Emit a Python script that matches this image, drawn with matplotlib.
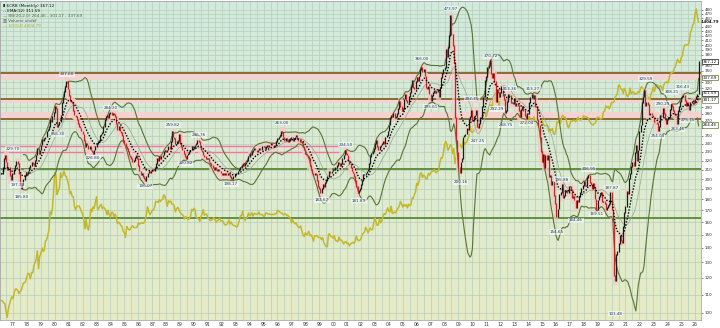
import numpy as np
import pandas as pd
import matplotlib
matplotlib.use("Agg")
import matplotlib.pyplot as plt

# monthly closes, first value = March 1976
start_year, start_month = 1976, 3
crb_close = [
    205, 212, 222, 226, 218, 210, 212, 203, 199, 206,
    205, 210, 214, 219, 216, 205, 196, 190, 194, 199, 203, 207,
    205, 208, 212, 214, 218, 216, 214, 220, 226, 234, 228, 232,
    238, 245, 244, 246, 248, 256, 258, 262, 272, 268, 276, 282,
    290, 288, 262, 265, 268, 278, 296, 305, 314, 322, 330, 318,
    308, 300, 298, 296, 285, 278, 276, 272, 266, 262, 260, 256,
    252, 244, 236, 240, 238, 234, 236, 232, 230, 228, 232, 236,
    240, 242, 244, 250, 252, 254, 262, 272, 276, 278, 274, 280,
    282, 278, 281, 279, 276, 266, 258, 262, 256, 254, 250, 244,
    240, 236, 234, 230, 226, 224, 222, 218, 220, 223, 226, 222,
    214, 208, 204, 206, 202, 200, 198, 202, 206, 208, 206, 208,
    210, 208, 212, 216, 222, 220, 224, 222, 224, 226, 230, 232,
    230, 232, 236, 234, 242, 256, 248, 246, 240, 242, 244, 252,
    240, 236, 232, 228, 224, 222, 226, 228, 230, 232, 236, 234,
    236, 238, 240, 244, 242, 238, 232, 230, 226, 224, 222, 222,
    222, 218, 216, 214, 212, 210, 212, 210, 208, 210, 208, 206,
    204, 206, 204, 206, 204, 206, 204, 202, 200, 200, 202, 204,
    206, 206, 208, 210, 212, 214, 216, 214, 216, 218, 220, 224,
    228, 226, 230, 232, 234, 232, 230, 232, 234, 232, 232, 236,
    236, 234, 236, 238, 236, 238, 240, 238, 238, 236, 238, 242,
    246, 248, 250, 256, 254, 248, 244, 246, 244, 242, 244, 246,
    248, 244, 246, 248, 250, 246, 244, 242, 242, 240, 236, 232,
    228, 226, 224, 222, 214, 210, 206, 204, 206, 204, 198, 192,
    190, 186, 190, 194, 192, 196, 198, 202, 208, 206, 206, 208,
    210, 210, 212, 214, 218, 216, 214, 216, 222, 226, 232, 228,
    226, 220, 216, 212, 208, 206, 202, 198, 192, 186, 188, 190,
    194, 198, 204, 204, 206, 208, 210, 216, 224, 228, 230, 234,
    240, 244, 236, 232, 236, 238, 240, 242, 240, 248, 250, 256,
    264, 274, 278, 276, 280, 274, 276, 280, 288, 298, 290, 284,
    288, 302, 310, 300, 296, 306, 312, 322, 332, 320, 318, 330,
    338, 332, 340, 352, 356, 348, 352, 340, 320, 318, 322, 310,
    300, 308, 312, 316, 312, 314, 318, 306, 320, 338, 344, 352,
    356, 390, 376, 394, 420, 466, 422, 398, 364, 274, 244, 229,
    212, 206, 218, 222, 248, 250, 252, 260, 258, 272, 276, 284,
    270, 276, 278, 284, 262, 260, 266, 274, 290, 305, 306, 332,
    339, 356, 359, 368, 345, 338, 345, 330, 298, 318, 312, 305,
    312, 322, 308, 301, 282, 284, 298, 310, 308, 296, 296, 295,
    303, 292, 295, 292, 284, 275, 286, 290, 285, 277, 273, 280,
    280, 297, 304, 309, 303, 308, 291, 290, 272, 263, 247, 230,
    218, 227, 212, 225, 221, 225, 202, 203, 194, 197, 183, 176,
    164, 164, 171, 184, 186, 194, 181, 183, 187, 188, 186, 192,
    192, 189, 181, 182, 179, 172, 179, 178, 182, 186, 190, 193,
    197, 193, 193, 201, 203, 196, 194, 190, 195, 191, 180, 170,
    179, 182, 184, 186, 178, 178, 176, 170, 172, 174, 176, 186,
    170, 160, 121, 118, 135, 137, 143, 149, 145, 144, 156, 168,
    173, 187, 185, 200, 205, 213, 218, 214, 229, 237, 220, 232,
    255, 264, 296, 305, 315, 292, 296, 294, 278, 281, 281, 278,
    275, 268, 268, 266, 256, 262, 278, 276, 288, 280, 272, 266,
    272, 274, 286, 294, 290, 284, 280, 278, 266, 284, 290, 298,
    304, 306, 308, 300, 292, 296, 292, 286, 296, 298, 300, 296,
    302, 306, 310, 367.12,
]
gold_close = [
    129, 128, 125, 124, 112, 104, 116, 123, 130, 135,
    132, 142, 149, 149, 147, 141, 144, 146, 154, 161, 161, 165,
    175, 182, 181, 170, 184, 183, 200, 208, 217, 242, 193, 226,
    233, 251, 240, 245, 274, 278, 296, 315, 397, 383, 416, 512,
    653, 637, 494, 518, 535, 653, 614, 631, 666, 629, 619, 590,
    557, 499, 513, 482, 480, 426, 406, 425, 428, 427, 414, 397,
    387, 362, 320, 361, 326, 315, 342, 411, 397, 423, 414, 448,
    481, 408, 415, 429, 437, 413, 422, 415, 405, 382, 405, 382,
    370, 395, 394, 372, 385, 373, 342, 348, 344, 333, 329, 309,
    306, 287, 330, 321, 316, 317, 327, 333, 326, 325, 325, 327,
    345, 339, 344, 345, 343, 346, 357, 384, 423, 401, 383, 391,
    405, 406, 419, 453, 451, 447, 463, 453, 460, 466, 492, 484,
    458, 426, 457, 449, 455, 437, 437, 427, 397, 412, 420, 410,
    394, 388, 383, 377, 362, 373, 368, 359, 366, 375, 409, 401,
    415, 407, 368, 367, 363, 352, 372, 387, 408, 380, 384, 386,
    366, 363, 355, 357, 360, 368, 362, 347, 354, 357, 366, 353,
    354, 353, 341, 336, 337, 343, 357, 340, 349, 339, 334, 333,
    330, 327, 337, 355, 377, 378, 401, 371, 355, 369, 371, 391,
    378, 381, 392, 376, 388, 388, 385, 385, 395, 383, 383, 383,
    375, 376, 392, 389, 385, 387, 383, 383, 384, 383, 387, 387,
    405, 400, 396, 391, 391, 382, 385, 387, 379, 379, 371, 369,
    345, 358, 348, 340, 345, 334, 326, 325, 332, 311, 296, 290,
    304, 297, 301, 310, 293, 296, 288, 273, 293, 292, 294, 287,
    287, 287, 279, 286, 268, 261, 255, 255, 299, 299, 291, 290,
    284, 293, 276, 275, 272, 288, 277, 278, 273, 264, 270, 272,
    265, 267, 258, 264, 267, 270, 266, 273, 293, 279, 275, 277,
    282, 297, 302, 308, 326, 318, 304, 312, 324, 316, 317, 347,
    367, 348, 334, 336, 361, 346, 354, 375, 388, 384, 398, 417,
    400, 396, 426, 388, 393, 395, 391, 408, 416, 428, 453, 438,
    422, 435, 427, 435, 417, 437, 430, 433, 473, 470, 495, 513,
    569, 556, 582, 644, 653, 613, 633, 623, 600, 604, 646, 632,
    650, 665, 662, 679, 659, 650, 665, 673, 743, 789, 783, 834,
    923, 971, 934, 865, 888, 930, 919, 833, 884, 730, 814, 869,
    919, 942, 916, 891, 976, 934, 955, 955, 996, 1040, 1182, 1096,
    1081, 1116, 1113, 1179, 1213, 1244, 1169, 1246, 1307, 1346, 1386, 1405,
    1327, 1411, 1439, 1535, 1536, 1505, 1628, 1813, 1620, 1722, 1746, 1531,
    1744, 1770, 1662, 1651, 1558, 1598, 1622, 1692, 1776, 1720, 1726, 1657,
    1664, 1578, 1598, 1469, 1394, 1234, 1314, 1396, 1326, 1323, 1253, 1202,
    1240, 1326, 1284, 1288, 1250, 1322, 1285, 1287, 1216, 1172, 1182, 1200,
    1278, 1213, 1183, 1183, 1190, 1172, 1095, 1134, 1114, 1142, 1065, 1061,
    1116, 1237, 1233, 1290, 1215, 1321, 1350, 1309, 1316, 1273, 1173, 1152,
    1211, 1253, 1249, 1268, 1268, 1242, 1270, 1321, 1280, 1271, 1275, 1303,
    1343, 1318, 1325, 1315, 1299, 1253, 1224, 1202, 1192, 1215, 1221, 1282,
    1321, 1316, 1292, 1284, 1305, 1410, 1427, 1520, 1485, 1512, 1465, 1517,
    1587, 1585, 1597, 1686, 1730, 1781, 1975, 1968, 1887, 1879, 1777, 1898,
    1848, 1734, 1708, 1768, 1906, 1770, 1814, 1814, 1757, 1783, 1775, 1829,
    1797, 1909, 1937, 1897, 1838, 1807, 1766, 1711, 1672, 1634, 1769, 1824,
    1928, 1827, 1969, 1990, 1963, 1919, 1965, 1940, 1849, 1984, 2036, 2063,
    2040, 2044, 2230, 2286, 2327, 2326, 2447, 2503, 2634, 2744, 2657, 2625,
    2798, 2858, 3122, 3289, 3289, 3303, 3290, 3448, 3858, 4003, 4239, 4330,
    4900, 5200, 4700, 4404.79,
]

# price levels drawn across the chart
brown_levels = [346, 302, 273]
pink_bands = [(334, 346), (296, 302), (273, 283)]
green_levels = [210.7, 163.3]
pink_levels = [229.5, 237.7]
pink_end = 2000.35

# high / low callouts
ann_t = [1976.45, 1976.8, 1977.65, 1980.2, 1980.9, 1982.75, 1984.0, 1986.5,
         1988.5, 1989.4, 1990.35, 1992.65, 1996.35, 1999.2, 2000.9, 2001.85,
         2006.4, 2007.0, 2008.5, 2009.15, 2009.97, 2010.4, 2011.3, 2011.75,
         2012.42, 2012.67, 2013.9, 2014.36, 2016.05, 2016.44, 2017.45, 2018.35,
         2018.95, 2020.02, 2020.3, 2022.45, 2023.3, 2023.7, 2024.3, 2024.75,
         2025.1, 2025.45]
ann_val = [229.70, 197.30, 185.80, 256.30, 337.60, 226.80, 284.20, 196.07,
           259.82, 220.82, 246.76, 198.17, 263.00, 182.67, 234.50, 181.83,
           366.00, 295.61, 473.97, 200.16, 297.75, 247.25, 370.72, 292.29,
           268.75, 313.36, 272.04, 313.27, 154.65, 195.88, 164.46, 206.95,
           169.51, 187.87, 101.48, 329.59, 254.03, 290.29, 308.21, 263.46,
           316.43, 275.75]
ann_kind = ['h', 'l', 'l', 'l', 'h', 'l', 'h', 'l', 'h', 'l', 'h', 'l', 'h', 'l',
            'h', 'l', 'h', 'l', 'h', 'l', 'h', 'l', 'h', 'l', 'l', 'h', 'l', 'h',
            'l', 'h', 'l', 'h', 'l', 'h', 'l', 'h', 'l', 'h', 'h', 'l', 'h', 'l']

crb = np.array(crb_close, float)
gold = np.array(gold_close, float)
t = start_year + (np.arange(len(crb)) + start_month - 1) / 12.0
opens = np.r_[crb[0], crb[:-1]]
s = pd.Series(crb)
ema = s.ewm(span=12, adjust=False).mean().values
mid = s.rolling(20).mean().values
sd = s.rolling(20).std(ddof=0).values
upper, lower = mid + 2 * sd, mid - 2 * sd

W, H = 720, 328
fig = plt.figure(figsize=(W / 100, H / 100), dpi=100)
rect = [0, (H - 320) / H, 701 / W, 319 / H]
xlim = (1976.066, 2026.425)
ylim = (96.44, 502.3)

# background, grid, bands, levels
bg = fig.add_axes(rect, zorder=1)
bg.set_yscale("log")
bg.set_xlim(xlim)
bg.set_ylim(ylim)
grad = np.linspace(0, 1, 256)[:, None]
top = np.array([0.820, 0.918, 0.868])
bot = np.array([0.900, 0.925, 0.775])
img = top[None, None, :] * (1 - grad[..., None]) + bot[None, None, :] * grad[..., None]
bg.imshow(img, extent=[0, 1, 0, 1], transform=bg.transAxes, aspect="auto", zorder=0)
for yr in np.arange(1976.5, 2026.5, 0.5):
    bg.axvline(yr, color="#b8ccbc", lw=0.5, zorder=1)
for p in range(100, 490, 10):
    bg.axhline(p, color="#b8ccbc", lw=0.5, zorder=1)
for lo, hi in pink_bands:
    bg.axhspan(lo, hi, color="#f3d3cf", lw=0, zorder=2)
for p in brown_levels:
    bg.axhline(p, color="#8a6a34", lw=1.4, zorder=3)
for p in green_levels:
    bg.axhline(p, color="#4e7f2c", lw=1.2, zorder=3)
for p in pink_levels:
    bg.plot([xlim[0], pink_end], [p, p], color="#ff6fa3", lw=1.0, zorder=3)
bg.axis("off")

# price panel
ax = fig.add_axes(rect, zorder=3)
ax.patch.set_visible(False)
ax.set_yscale("log")
ax.set_xlim(xlim)
ax.set_ylim(ylim)

ax2 = ax.twinx()
ax2.set_zorder(2)
ax2.patch.set_visible(False)
ax2.set_yscale("log")
ax2.set_ylim(100.7, 5748)
ax2.plot(t, gold, color="#c3b82c", lw=1.1)
ax2.set_yticks([])
ax2.yaxis.set_minor_locator(matplotlib.ticker.NullLocator())
for sp in ax2.spines.values():
    sp.set_visible(False)

down = crb < opens
up = ~down
lo = np.minimum(opens, crb)
hi = np.maximum(opens, crb)
ax.bar(t[down], hi[down] * 1.02 - lo[down] * 0.98, bottom=lo[down] * 0.98,
       width=0.36, color="#f2cdc8", alpha=0.7, lw=0, zorder=1)
ax.vlines(t[up], lo[up], hi[up] * 1.004, color="#1a1a1a", lw=0.9, zorder=3)
ax.vlines(t[down], lo[down], hi[down] * 1.004, color="#b82a22", lw=0.9, zorder=3)
ax.plot(t, mid, color="#9aa58c", lw=0.5, zorder=2)
ax.plot(t, upper, color="#5b7337", lw=0.8, zorder=2)
ax.plot(t, lower, color="#5b7337", lw=0.8, zorder=2)
ax.plot(t, ema, color="black", lw=1.0, ls=(0, (1, 1.2)), zorder=4)

for tt, v, k in zip(ann_t, ann_val, ann_kind):
    ha = "left" if tt < 1977 else "center"
    dy, va = (1, "bottom") if k == "h" else (-1, "top")
    ax.annotate(f"{v:.2f}", (tt, v), xytext=(0, dy), textcoords="offset points",
                ha=ha, va=va, fontsize=3.0, color="#1f3c6e", zorder=6,
                bbox=dict(boxstyle="square,pad=0.15", fc="white", ec="none", alpha=0.55))

# axes and ticks
ax.yaxis.tick_right()
ax.yaxis.set_minor_locator(matplotlib.ticker.NullLocator())
ticks = list(range(100, 490, 10))
hidden = {450, 370, 340, 310, 300, 260}
ax.set_yticks(ticks)
ax.set_yticklabels(["" if p in hidden else str(p) for p in ticks])
ax.tick_params(axis="y", labelsize=3.0, length=1.5, width=0.4, pad=1.2, colors="#333333")
years = list(range(1977, 2027))
ax.set_xticks(years)
ax.set_xticklabels([f"{y % 100:02d}" for y in years])
ax.tick_params(axis="x", labelsize=3.3, length=0, pad=1.2, colors="#333333")
for sp in ax.spines.values():
    sp.set_color("#9a9a9a")
    sp.set_linewidth(0.5)

boxes = [(367.12, "#111111"), (337.69, "#5b7337"), (311.59, "#111111"),
         (301.17, "#6e7a62"), (264.46, "#5b7337")]
for v, c in boxes:
    ax.text(1.003, v, f"{v:.2f}", transform=ax.get_yaxis_transform(), ha="left",
            va="center", fontsize=3.0, color="#111111", zorder=7, clip_on=False,
            bbox=dict(boxstyle="square,pad=0.15", fc="white", ec=c, lw=0.5))
ax2.text(1.0, 4404.79, "4404.79 ", transform=ax2.get_yaxis_transform(), ha="left",
         va="center", fontsize=2.8, color="#111111", fontweight="bold", clip_on=False)

# legend
legend = [("\u25ae $CRB (Monthly) 367.12", "#111111"),
          ("-- EMA(12) 311.59", "#111111"),
          ("\u2014 BB(20,2.0) 264.46 - 301.17 - 337.69", "#4e6e2e"),
          ("\u25a5 Volume undef", "#555555"),
          ("\u2014 $GOLD 4404.79", "#b5aa20")]
for i, (txt, c) in enumerate(legend):
    ax.text(3 / 701, 1 - (5.5 + 4.7 * i) / 319, txt, transform=ax.transAxes,
            fontsize=3.0, color=c, va="center", ha="left", zorder=8)

fig.savefig("out.png", dpi=100)
